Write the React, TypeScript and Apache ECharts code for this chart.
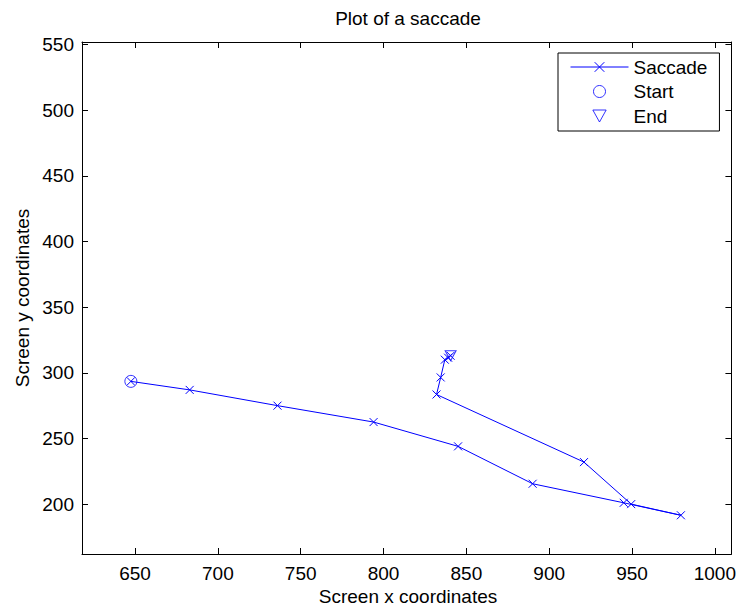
import React, { useEffect, useRef } from 'react';
import * as echarts from 'echarts';

// ---- data ----
const saccadeX = [647.5, 683, 736, 794, 845, 890, 945, 979.5, 949.5, 921, 832, 834.5, 837, 839, 840.5];
const saccadeY = [293.5, 287, 275, 262.5, 244, 215.5, 201, 191.5, 200, 232, 283.5, 296.5, 310, 311.5, 313];
const startX = [647.5];
const startY = [293.5];
const endX = [840.5];
const endY = [313];
const xTicks = [650, 700, 750, 800, 850, 900, 950, 1000];
const yTicks = [200, 250, 300, 350, 400, 450, 500, 550];
const xLimits = [618, 1010];
const yLimits = [162, 552];
const seriesNames = ['Saccade', 'Start', 'End'];
const titleText = 'Plot of a saccade';
const xName = 'Screen x coordinates';
const yName = 'Screen y coordinates';

const FONT = '"Liberation Sans", Arial, Helvetica, sans-serif';
const BLUE = '#0000ff';
const FS = 19;

const CROSS = 'path://M0,0L10,10M0,10L10,0';
const TRI_DOWN = 'path://M0,0L10,0L5,9Z';

function axisBase(ticks: number[]) {
  return {
    type: 'value' as const,
    axisLine: { show: true, onZero: false, lineStyle: { color: '#000', width: 1 } },
    axisTick: { show: true, inside: true, length: 6, customValues: ticks, lineStyle: { color: '#000', width: 1 } },
    splitLine: { show: false },
  };
}

const plain = (v: number) => String(v);

export default function App() {
  const ref = useRef<HTMLDivElement>(null);
  useEffect(() => {
    if (!ref.current) return;
    const chart = echarts.init(ref.current, null, { renderer: 'svg' });
    const zip = (xs: number[], ys: number[]) => xs.map((x, i) => [x, ys[i]]);
    chart.setOption({
      animation: false,
      backgroundColor: '#fff',
      grid: { left: 82, right: 6, top: 42, bottom: 55, containLabel: false },
      xAxis: [
        {
          ...axisBase(xTicks),
          position: 'bottom',
          min: xLimits[0],
          max: xLimits[1],
          axisLabel: { customValues: xTicks, formatter: plain, color: '#000', fontSize: FS, fontFamily: FONT, margin: 10 },
        },
        {
          ...axisBase(xTicks),
          position: 'top',
          min: xLimits[0],
          max: xLimits[1],
          axisLabel: { show: false },
        },
      ],
      yAxis: [
        {
          ...axisBase(yTicks),
          position: 'left',
          min: yLimits[0],
          max: yLimits[1],
          axisLabel: { customValues: yTicks, formatter: plain, color: '#000', fontSize: FS, fontFamily: FONT, margin: 8 },
        },
        {
          ...axisBase(yTicks),
          position: 'right',
          min: yLimits[0],
          max: yLimits[1],
          axisLabel: { show: false },
        },
      ],
      legend: {
        orient: 'vertical',
        left: 558,
        top: 53,
        data: seriesNames,
        selectedMode: false,
        itemWidth: 58,
        itemHeight: 12,
        itemGap: 5.5,
        padding: [4.5, 12, 5.5, 12],
        borderColor: '#000',
        borderWidth: 1,
        borderRadius: 0,
        backgroundColor: '#fff',
        textStyle: { fontSize: FS, fontFamily: FONT, color: '#000', lineHeight: 19 },
        itemStyle: { color: 'transparent', borderColor: BLUE, borderWidth: 1 },
        lineStyle: { color: BLUE, width: 1 },
      },
      series: [
        {
          name: seriesNames[0],
          type: 'line',
          data: zip(saccadeX, saccadeY),
          symbol: CROSS,
          symbolSize: 8,
          showAllSymbol: true,
          itemStyle: { color: 'transparent', borderColor: BLUE, borderWidth: 1 },
          lineStyle: { color: BLUE, width: 1 },
          z: 2,
        },
        {
          name: seriesNames[1],
          type: 'scatter',
          data: zip(startX, startY),
          symbol: 'circle',
          symbolSize: 12,
          itemStyle: { color: 'transparent', borderColor: BLUE, borderWidth: 1 },
          z: 3,
        },
        {
          name: seriesNames[2],
          type: 'scatter',
          data: zip(endX, endY),
          symbol: TRI_DOWN,
          symbolSize: [11, 10],
          itemStyle: { color: 'transparent', borderColor: BLUE, borderWidth: 1 },
          z: 3,
        },
      ],
      graphic: [
        {
          type: 'text',
          x: 408,
          y: 18.5,
          style: { text: titleText, fontSize: FS, fontFamily: FONT, fill: '#000', align: 'center', verticalAlign: 'middle' },
        },
        {
          type: 'text',
          x: 408,
          y: 596,
          style: { text: xName, fontSize: FS, fontFamily: FONT, fill: '#000', align: 'center', verticalAlign: 'middle' },
        },
        {
          type: 'text',
          x: 22,
          y: 298,
          rotation: Math.PI / 2,
          style: { text: yName, fontSize: FS, fontFamily: FONT, fill: '#000', align: 'center', verticalAlign: 'middle' },
        },
      ],
    });
    return () => chart.dispose();
  }, []);
  return (
    <div
      ref={ref}
      style={{ position: 'fixed', left: 0, top: 0, width: 739, height: 609, background: '#fff' }}
    />
  );
}
